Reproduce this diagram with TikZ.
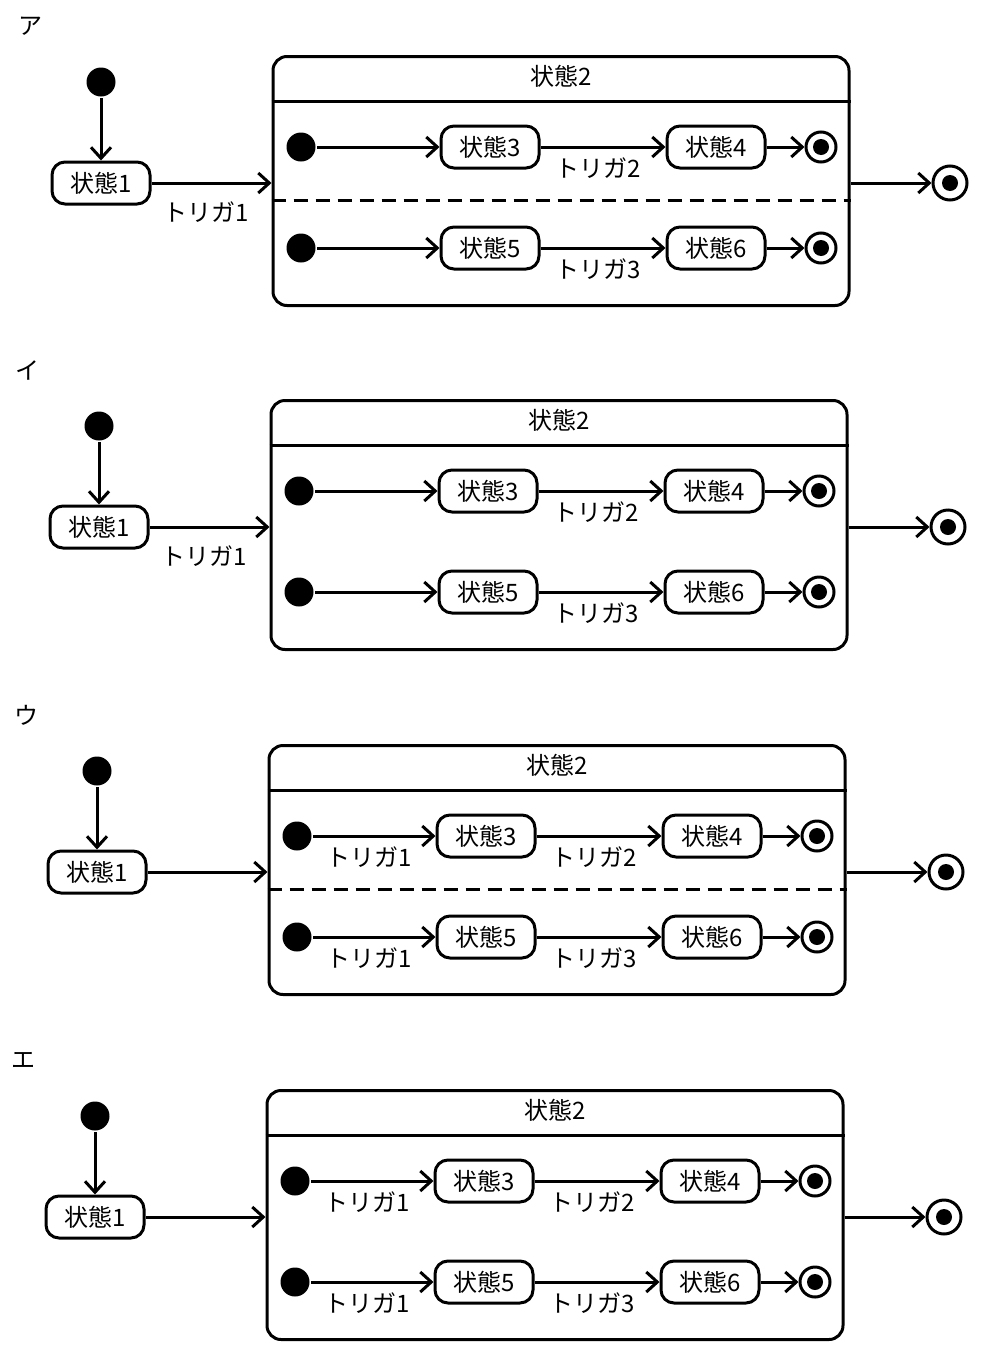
\documentclass[tikz,border=0pt]{standalone}
\usepackage{fontspec}
\setmainfont{Noto Sans CJK JP}
\usetikzlibrary{arrows.meta,positioning}

\begin{document}
\begin{tikzpicture}[
    x=1pt,
    y=-1pt,
    line width=3pt,
    >={Straight Barb[length=11pt,width=20pt]},
    font=\fontsize{24}{28}\selectfont,
    state node/.style={draw,rectangle,rounded corners=13pt,minimum width=98pt,minimum height=42pt,inner sep=0pt},
    start node/.style={circle,fill,inner sep=0pt,minimum size=29pt},
    stop node/.style={circle,draw,inner sep=0pt,minimum size=30pt,
      path picture={\fill (path picture bounding box.center) circle (8pt);}},
    region node/.style={draw,rectangle,rounded corners=14pt,minimum width=576pt,minimum height=249pt,inner sep=0pt},
    trigger/.style={anchor=center,xshift=-5pt,yshift=-21pt}
    ]

    \useasboundingbox (0,0) rectangle (984,1368);

    % one panel per answer: label / shift / dashed separator / trigger1 inside
    \foreach \lab/\dx/\dy/\sep/\inner in {ア/0/0/1/0, イ/-2/344/0/0, ウ/-4/689/1/1, エ/-6/1034/0/1} {
    \begin{scope}[shift={(\dx,\dy)}]
      \node (lab) at (30,26) {\lab};

      \node[start node] (i1) at (101,82) {};
      \node[state node] (s1) at (101,183) {状態1};

      \node[region node] (s2) at (561,181) {};
      \node (t2) at (561,76) {状態2};
      \coordinate (hl) at (0,101);
      \draw (hl -| s2.west) -- (hl -| s2.east);
      \ifnum\sep=1
        \coordinate (dl) at (0,200);
        \draw[dash pattern=on 14pt off 8pt] (dl -| s2.west) -- (dl -| s2.east);
      \fi

      \node[start node] (i3) at (301,147) {};
      \node[state node] (s3) at (490,147) {状態3};
      \node[state node] (s4) at (716,147) {状態4};
      \node[stop node] (f4) at (821,147) {};

      \node[start node] (i5) at (301,248) {};
      \node[state node] (s5) at (490,248) {状態5};
      \node[state node] (s6) at (716,248) {状態6};
      \node[stop node] (f6) at (821,248) {};

      \node[stop node, minimum size=34pt] (f2) at (950,183) {};

      \path[->]
        (i1) edge (s1)
        (s3) edge node [trigger] {トリガ2} (s4)
        (s4) edge (f4)
        (s5) edge node [trigger] {トリガ3} (s6)
        (s6) edge (f6)
        (f2 -| s2.east) edge (f2);

      \ifnum\inner=1
        \path[->]
          (s1.east) edge (s1.east -| s2.west)
          (i3) edge node [trigger] {トリガ1} (s3)
          (i5) edge node [trigger] {トリガ1} (s5);
      \else
        \path[->]
          (s1.east) edge node [trigger, yshift=-8pt] {トリガ1} (s1.east -| s2.west)
          (i3) edge (s3)
          (i5) edge (s5);
      \fi
    \end{scope}
    }
  \end{tikzpicture}
\end{document}
